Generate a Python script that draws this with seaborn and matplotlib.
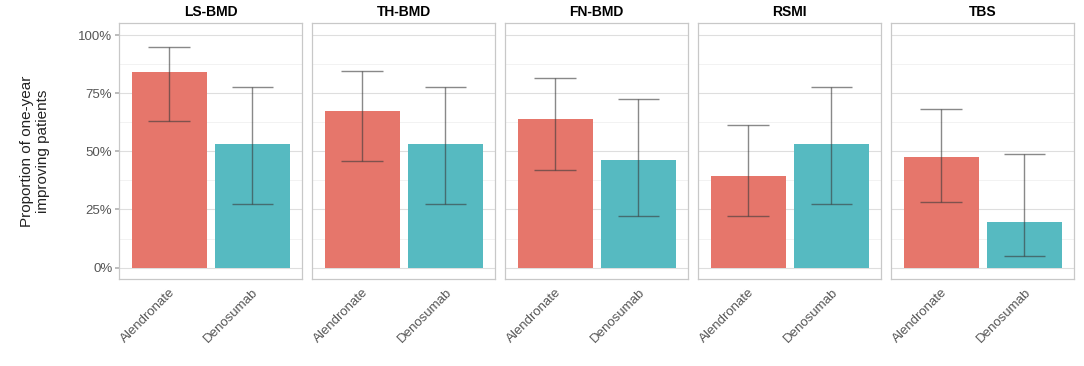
import numpy as np
import pandas as pd
import matplotlib
matplotlib.use("Agg")
import matplotlib.pyplot as plt
import seaborn as sns
from matplotlib.ticker import FixedLocator, PercentFormatter

metrics = ["LS-BMD", "TH-BMD", "FN-BMD", "RSMI", "TBS"]
treatments = ["Alendronate", "Denosumab"]
alendronate_prop = [0.84, 0.675, 0.637, 0.396, 0.474]
alendronate_low = [0.63, 0.46, 0.421, 0.221, 0.282]
alendronate_high = [0.95, 0.845, 0.815, 0.612, 0.684]
denosumab_prop = [0.531, 0.531, 0.463, 0.531, 0.197]
denosumab_low = [0.273, 0.273, 0.221, 0.273, 0.051]
denosumab_high = [0.778, 0.778, 0.725, 0.778, 0.487]
colors = {"Alendronate": "#E6766B", "Denosumab": "#56BAC1"}

rows = []
for i, m in enumerate(metrics):
    rows.append((m, "Alendronate", alendronate_prop[i], alendronate_low[i], alendronate_high[i]))
    rows.append((m, "Denosumab", denosumab_prop[i], denosumab_low[i], denosumab_high[i]))
df = pd.DataFrame(rows, columns=["metric", "treatment", "prop", "low", "high"])

sns.set_theme(style="white")
plt.rcParams["font.family"] = ["Liberation Sans", "DejaVu Sans"]

fig, axes = plt.subplots(1, 5, figsize=(10.84, 3.66), dpi=100, sharey=True)
fig.subplots_adjust(left=0.11, right=0.991, bottom=0.237, top=0.936, wspace=0.055)

for k, (ax, m) in enumerate(zip(axes, metrics)):
    sub = df[df.metric == m]
    sns.barplot(data=sub, x="treatment", y="prop", hue="treatment", order=treatments,
                hue_order=treatments, palette=colors, width=0.9, errorbar=None,
                saturation=1, legend=False, ax=ax, zorder=2, linewidth=0)
    xs = np.arange(len(treatments))
    ax.vlines(xs, sub["low"].values, sub["high"].values, color="#3a3a3a", alpha=0.6, lw=1, zorder=3)
    ax.hlines(sub["low"].values, xs - 0.25, xs + 0.25, color="#3a3a3a", alpha=0.6, lw=1, zorder=3)
    ax.hlines(sub["high"].values, xs - 0.25, xs + 0.25, color="#3a3a3a", alpha=0.6, lw=1, zorder=3)
    ax.set_xlim(-0.6, 1.6)
    ax.set_ylim(-0.05, 1.05)
    ax.yaxis.set_major_locator(FixedLocator([0, 0.25, 0.5, 0.75, 1.0]))
    ax.yaxis.set_minor_locator(FixedLocator([0.125, 0.375, 0.625, 0.875]))
    ax.yaxis.set_major_formatter(PercentFormatter(1.0, decimals=0))
    ax.grid(axis="y", which="major", color="#DEDEDE", lw=0.8, zorder=0)
    ax.grid(axis="y", which="minor", color="#EDEDED", lw=0.5, zorder=0)
    ax.set_axisbelow(True)
    for s in ax.spines.values():
        s.set_color("#C8C8C8")
        s.set_linewidth(0.9)
    ax.set_title(m, fontsize=10, fontweight="bold", pad=5, color="black")
    ax.set_xlabel("")
    ax.set_ylabel("")
    ax.tick_params(axis="x", length=3, color="#B3B3B3", labelsize=9.5, labelcolor="#555555", pad=2)
    ax.tick_params(axis="y", which="minor", length=0)
    if k == 0:
        ax.tick_params(axis="y", length=3, color="#B3B3B3", labelsize=9.5, labelcolor="#555555", pad=2, left=True)
    else:
        ax.tick_params(axis="y", length=0, left=False, labelleft=False)
    for lab in ax.get_xticklabels():
        lab.set_rotation(45)
        lab.set_ha("right")
        lab.set_rotation_mode("anchor")

axes[0].set_ylabel("Proportion of one-year\nimproving patients", fontsize=11, color="#222222", labelpad=20)

fig.savefig("out.png", dpi=100, facecolor="white")
